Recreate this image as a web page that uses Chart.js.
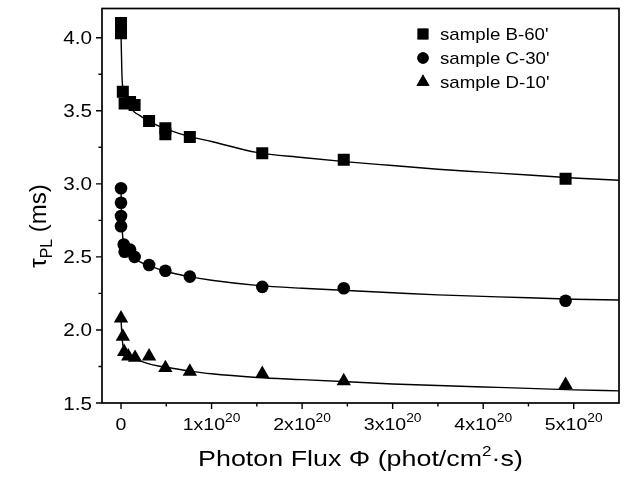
<!DOCTYPE html>
<html>
<head>
<meta charset="utf-8">
<script src="https://cdn.jsdelivr.net/npm/chart.js@4/dist/chart.umd.min.js"></script>
<style>
html,body{margin:0;padding:0;background:#fff;}
#wrap{width:633px;height:478px;position:relative;}
</style>
</head>
<body>
<div id="wrap"><canvas id="c" width="633" height="478"></canvas></div>
<script>
// ---- data (x in units of 1e20 phot/cm^2·s, y in ms) ----
const seriesNames = ["sample B-60'", "sample C-30'", "sample D-10'"];
const xB = [0, 0, 0.02, 0.04, 0.10, 0.15, 0.31, 0.49, 0.49, 0.76, 1.56, 2.46, 4.91];
const yB = [4.10, 4.03, 3.63, 3.55, 3.56, 3.54, 3.43, 3.38, 3.34, 3.32, 3.21, 3.165, 3.035];
const xC = [0, 0, 0, 0, 0.03, 0.04, 0.10, 0.15, 0.31, 0.49, 0.76, 1.56, 2.46, 4.91];
const yC = [2.97, 2.87, 2.78, 2.71, 2.585, 2.535, 2.55, 2.50, 2.445, 2.405, 2.365, 2.295, 2.285, 2.20];
const xD = [0, 0.02, 0.035, 0.08, 0.155, 0.31, 0.49, 0.76, 1.56, 2.46, 4.91];
const yD = [2.08, 1.955, 1.85, 1.82, 1.81, 1.82, 1.74, 1.715, 1.70, 1.65, 1.625];

// fitted curves
const xFit = [0, 0.01, 0.02, 0.04, 0.07, 0.1, 0.15, 0.2, 0.3, 0.4, 0.5, 0.75, 1.0, 1.5, 2.0, 2.5, 3.0, 3.5, 4.0, 4.5, 5.0, 5.5];
const fitB = [4.03, 3.75, 3.65, 3.58, 3.54, 3.52, 3.49, 3.47, 3.43, 3.40, 3.375, 3.325, 3.29, 3.215, 3.18, 3.15, 3.125, 3.10, 3.08, 3.06, 3.04, 3.025];
const fitC = [2.95, 2.72, 2.63, 2.57, 2.535, 2.515, 2.49, 2.47, 2.44, 2.42, 2.40, 2.365, 2.34, 2.305, 2.285, 2.27, 2.255, 2.24, 2.23, 2.22, 2.21, 2.205];
const fitD = [2.08, 1.96, 1.90, 1.85, 1.83, 1.815, 1.80, 1.79, 1.77, 1.755, 1.745, 1.72, 1.70, 1.675, 1.66, 1.645, 1.63, 1.62, 1.61, 1.60, 1.59, 1.583];

const xMajorTicks = [0, 1, 2, 3, 4, 5];
const xMinorTicks = [0.5, 1.5, 2.5, 3.5, 4.5];
const yMajorTicks = [1.5, 2.0, 2.5, 3.0, 3.5, 4.0];
const yMinorTicks = [1.75, 2.25, 2.75, 3.25, 3.75];

const pts = (xs, ys) => xs.map((x, i) => ({x: x, y: ys[i]}));
const FONT = "'Liberation Sans', Arial, Helvetica, sans-serif";

const markerStyles = ['rect', 'circle', 'triangle'];
const markerRadius = [8.5, 6.3, 8.3];

function scatterDs(i, data) {
  return {
    type: 'scatter', label: seriesNames[i], data: data, order: 0,
    pointStyle: markerStyles[i], pointRadius: markerRadius[i], pointHoverRadius: markerRadius[i],
    backgroundColor: '#000', borderColor: '#000', borderWidth: 0, showLine: false
  };
}
function fitDs(ys) {
  return {
    type: 'line', label: '', data: pts(xFit, ys), order: 1,
    borderColor: '#000', borderWidth: 1.4, pointRadius: 0, fill: false,
    cubicInterpolationMode: 'monotone'
  };
}

// draw text horizontally stretched by sx, left-aligned at (x, y baseline)
function sText(ctx, txt, x, y, size, sx) {
  ctx.save();
  ctx.translate(x, y);
  ctx.scale(sx, 1);
  ctx.font = size + 'px ' + FONT;
  ctx.fillText(txt, 0, 0);
  ctx.restore();
}
function sWidth(ctx, txt, size, sx) {
  ctx.font = size + 'px ' + FONT;
  return ctx.measureText(txt).width * sx;
}

const framePlugin = {
  id: 'frame',
  afterDraw(chart) {
    const ctx = chart.ctx, a = chart.chartArea;
    const xs = chart.scales.x, ys = chart.scales.y;
    ctx.save();
    ctx.strokeStyle = '#000';
    ctx.lineWidth = 1.7;
    ctx.strokeRect(a.left, a.top, a.right - a.left, a.bottom - a.top);
    ctx.lineWidth = 1.4;
    ctx.beginPath();
    xMajorTicks.forEach(v => { const p = xs.getPixelForValue(v); ctx.moveTo(p, a.bottom); ctx.lineTo(p, a.bottom + 6); });
    xMinorTicks.forEach(v => { const p = xs.getPixelForValue(v); ctx.moveTo(p, a.bottom); ctx.lineTo(p, a.bottom + 3.5); });
    yMajorTicks.forEach(v => { const p = ys.getPixelForValue(v); ctx.moveTo(a.left, p); ctx.lineTo(a.left - 6, p); });
    yMinorTicks.forEach(v => { const p = ys.getPixelForValue(v); ctx.moveTo(a.left, p); ctx.lineTo(a.left - 3.5, p); });
    ctx.stroke();

    ctx.fillStyle = '#000';
    ctx.textAlign = 'left';
    ctx.textBaseline = 'alphabetic';
    const SX = 1.15;
    // y tick labels
    yMajorTicks.forEach(v => {
      const t = v.toFixed(1);
      const w = sWidth(ctx, t, 18, SX);
      sText(ctx, t, a.left - 10 - w, ys.getPixelForValue(v) + 6.5, 18, SX);
    });

    // x tick labels with superscript
    xMajorTicks.forEach(v => {
      const p = xs.getPixelForValue(v);
      const base = a.bottom + 27;
      if (v === 0) {
        const w = sWidth(ctx, '0', 17, SX);
        sText(ctx, '0', p - w / 2, base, 17, SX);
      } else {
        const main = v + 'x10';
        const w1 = sWidth(ctx, main, 17, SX);
        const w2 = sWidth(ctx, '20', 12, SX);
        const x0 = p - (w1 + w2) / 2;
        sText(ctx, main, x0, base, 17, SX);
        sText(ctx, '20', x0 + w1, base - 8, 12, SX);
      }
    });

    // x axis title
    const TS = 1.22;
    const t1 = 'Photon Flux \u03A6 (phot/cm', t2 = '2', t3 = '\u00B7s)';
    const w1 = sWidth(ctx, t1, 22, TS), w2 = sWidth(ctx, t2, 14, TS), w3 = sWidth(ctx, t3, 22, TS);
    const cx = (a.left + a.right) / 2;
    const x0 = cx - (w1 + w2 + w3) / 2;
    const by = 466;
    sText(ctx, t1, x0, by, 22, TS);
    sText(ctx, t2, x0 + w1, by - 10, 14, TS);
    sText(ctx, t3, x0 + w1 + w2, by, 22, TS);

    // y axis title (rotated)
    ctx.save();
    ctx.translate(46, 226);
    ctx.rotate(-Math.PI / 2);
    ctx.font = '24px ' + FONT;
    const s1 = '\u03C4', s3 = ' (ms)';
    const ws1 = ctx.measureText(s1).width;
    ctx.font = '16px ' + FONT; const ws2 = ctx.measureText('PL').width;
    ctx.font = '24px ' + FONT; const ws3 = ctx.measureText(s3).width;
    const sx = -(ws1 + ws2 + ws3) / 2;
    ctx.fillText(s1, sx, 0);
    ctx.font = '16px ' + FONT; ctx.fillText('PL', sx + ws1, 6);
    ctx.font = '24px ' + FONT; ctx.fillText(s3, sx + ws1 + ws2, 0);
    ctx.restore();

    // legend
    const lx = 423, ltx = 440, lys = [34, 58, 82];
    seriesNames.forEach((name, i) => {
      const y = lys[i];
      Chart.helpers.drawPoint(ctx, {pointStyle: markerStyles[i], radius: markerRadius[i] * 0.9, borderWidth: 0, rotation: 0}, lx, y);
      ctx.fillStyle = '#000';
      ctx.fill();
      sText(ctx, name, ltx, y + 6, 17, 1.1);
    });
    ctx.restore();
  }
};

new Chart(document.getElementById('c'), {
  data: {
    datasets: [
      scatterDs(0, pts(xB, yB)), scatterDs(1, pts(xC, yC)), scatterDs(2, pts(xD, yD)),
      fitDs(fitB), fitDs(fitC), fitDs(fitD)
    ]
  },
  options: {
    responsive: false, animation: false, devicePixelRatio: 1,
    layout: {padding: {top: 4, right: 14, left: 0, bottom: 0}},
    plugins: {legend: {display: false}, tooltip: {enabled: false}},
    scales: {
      x: {
        type: 'linear', min: -0.21, max: 5.5,
        grid: {display: false}, border: {display: false},
        ticks: {display: false},
        afterFit: s => { s.height = 75; }
      },
      y: {
        type: 'linear', min: 1.5, max: 4.2,
        grid: {display: false}, border: {display: false},
        ticks: {display: false},
        afterFit: s => { s.width = 102; }
      }
    }
  },
  plugins: [framePlugin]
});
</script>
</body>
</html>
